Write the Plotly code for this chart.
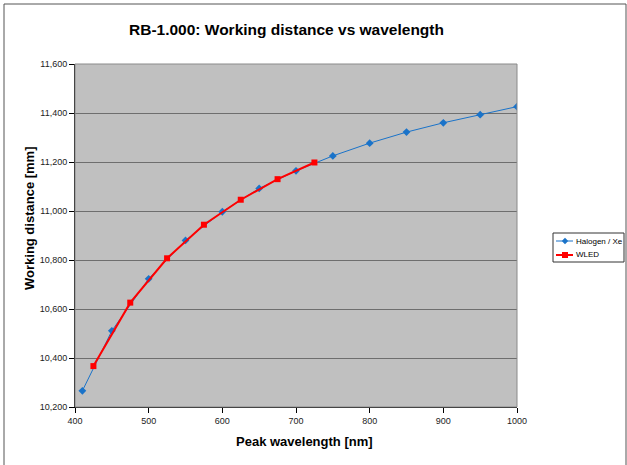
import plotly.graph_objects as go

# Data
halogen_wl = [410, 450, 500, 550, 600, 650, 700, 750, 800, 850, 900, 950, 1000]
halogen_wd = [10266, 10511, 10723, 10880, 10997, 11092, 11164, 11225, 11277, 11322, 11360, 11393, 11426]
wled_wl = [425, 475, 525, 575, 625, 675, 725]
wled_wd = [10367, 10626, 10807, 10944, 11046, 11130, 11198]

x_ticks = [400, 500, 600, 700, 800, 900, 1000]
y_ticks = [10200, 10400, 10600, 10800, 11000, 11200, 11400, 11600]

series_names = ["Halogen / Xe", "WLED"]
series_colors = ["#1A73C9", "#FF0000"]

FONT = "Liberation Sans, Arial, sans-serif"

W, H = 627, 465
L, R, T, B = 75, 517, 64, 407


def px(xp):
    return (xp - L) / (R - L)


def py(yp):
    return (B - yp) / (B - T)


fig = go.Figure()
fig.add_trace(go.Scatter(
    x=halogen_wl, y=halogen_wd, name=series_names[0], mode="lines+markers",
    line=dict(color=series_colors[0], width=1),
    marker=dict(symbol="diamond", size=6, color=series_colors[0]),
))
fig.add_trace(go.Scatter(
    x=wled_wl, y=wled_wd, name=series_names[1], mode="lines+markers",
    line=dict(color=series_colors[1], width=2),
    marker=dict(symbol="square", size=6, color=series_colors[1]),
))

# custom legend (box, samples, labels) in paper coordinates
lg_x0, lg_x1, lg_y0, lg_y1 = 553, 624, 233, 262
rows_y = [241, 255]
shapes = [
    dict(type="rect", xref="paper", yref="paper",
         x0=px(4), x1=px(626), y0=py(4), y1=py(470),
         line=dict(color="#555555", width=1), layer="below"),
    dict(type="rect", xref="paper", yref="paper",
         x0=0, x1=1, y0=0, y1=1,
         line=dict(color="#8A8A8A", width=1), layer="above"),
    dict(type="rect", xref="paper", yref="paper",
         x0=px(lg_x0), x1=px(lg_x1), y0=py(lg_y0), y1=py(lg_y1),
         line=dict(color="#333333", width=1), fillcolor="white", layer="above"),
]
annotations = []
for i, (nm, col) in enumerate(zip(series_names, series_colors)):
    yy = rows_y[i]
    shapes.append(dict(type="line", xref="paper", yref="paper",
                       x0=px(556), x1=px(573), y0=py(yy), y1=py(yy),
                       line=dict(color=col, width=1 if i == 0 else 2), layer="above"))
    cx = 565
    if i == 0:
        path = "M {} {} L {} {} L {} {} L {} {} Z".format(
            px(cx), py(yy - 3.2), px(cx + 3.2), py(yy),
            px(cx), py(yy + 3.2), px(cx - 3.2), py(yy))
        shapes.append(dict(type="path", xref="paper", yref="paper", path=path,
                           fillcolor=col, line=dict(color=col, width=0), layer="above"))
    else:
        shapes.append(dict(type="rect", xref="paper", yref="paper",
                           x0=px(cx - 3), x1=px(cx + 3), y0=py(yy - 3), y1=py(yy + 3),
                           fillcolor=col, line=dict(color=col, width=0), layer="above"))
    annotations.append(dict(text=nm, xref="paper", yref="paper",
                            x=px(574), y=py(yy), xanchor="left", yanchor="middle",
                            showarrow=False, font=dict(size=8, family=FONT, color="black")))

annotations += [
    dict(text="<b>RB-1.000: Working distance vs wavelength</b>",
         xref="paper", yref="paper", x=px(286), y=py(30),
         xanchor="center", yanchor="middle", showarrow=False,
         font=dict(size=15.5, family=FONT)),
    dict(text="<b>Working distance [mm]</b>",
         xref="paper", yref="paper", x=px(29), y=py(218),
         xanchor="center", yanchor="middle", showarrow=False, textangle=-90,
         font=dict(size=13, family=FONT)),
    dict(text="<b>Peak wavelength [nm]</b>",
         xref="paper", yref="paper", x=px(304), y=py(441),
         xanchor="center", yanchor="middle", showarrow=False,
         font=dict(size=13, family=FONT)),
]

fig.update_layout(
    width=W, height=H,
    margin=dict(l=L, r=W - R, t=T, b=H - B, autoexpand=False),
    paper_bgcolor="white",
    plot_bgcolor="#C0C0C0",
    font=dict(family=FONT, color="black"),
    showlegend=False,
    annotations=annotations,
    shapes=shapes,
)

fig.update_xaxes(
    range=[400, 1000], tickvals=x_ticks, ticktext=[str(v) for v in x_ticks],
    showgrid=False, zeroline=False,
    showline=True, linecolor="black", linewidth=1,
    ticks="outside", ticklen=5, tickcolor="black",
    tickfont=dict(size=9, family=FONT, color="#222222"),
)
fig.update_yaxes(
    range=[10200, 11600], tickvals=y_ticks, tickformat=",",
    showgrid=True, gridcolor="#6E6E6E", gridwidth=1, zeroline=False,
    showline=True, linecolor="black", linewidth=1,
    ticks="outside", ticklen=5, tickcolor="black",
    tickfont=dict(size=9, family=FONT, color="#222222"),
)

fig.write_html("out.html")
